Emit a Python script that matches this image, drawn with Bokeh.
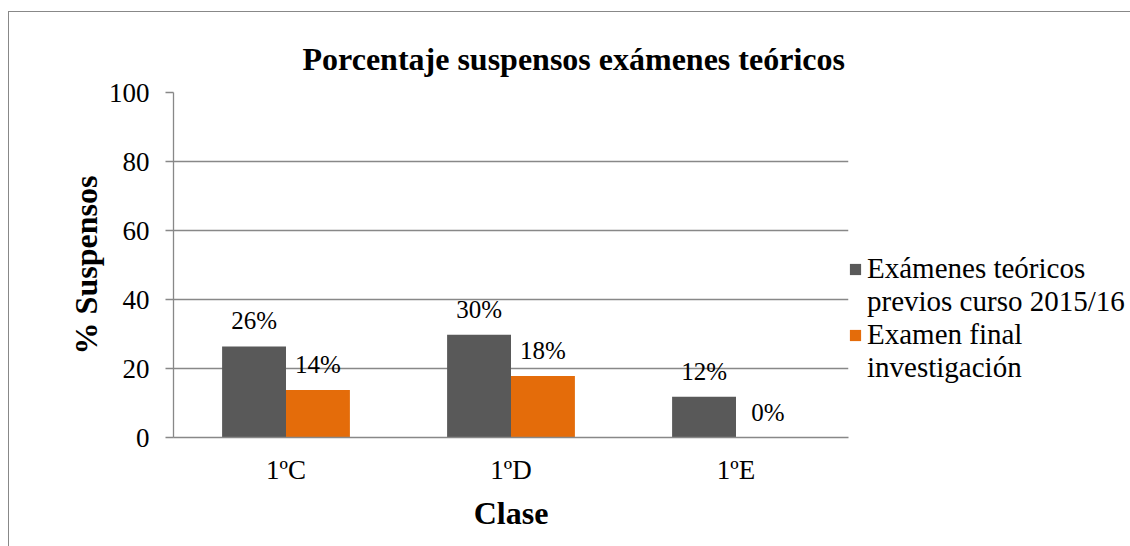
from bokeh.plotting import figure
from bokeh.models import ColumnDataSource, FactorRange, LabelSet, Legend, LegendItem, Title
from bokeh.transform import dodge
from bokeh.embed import file_html
from bokeh.resources import INLINE

categories = ["1ºC", "1ºD", "1ºE"]
previos = [26.4, 29.8, 11.8]
final = [13.8, 17.8, 0.0]
previos_labels = ["26%", "30%", "12%"]
final_labels = ["14%", "18%", "0%"]
series_lines = [["Exámenes teóricos", "previos curso 2015/16"], ["Examen final", "investigación"]]
y_ticks = [0, 20, 40, 60, 80, 100]

FONT = "Liberation Serif"
GRAY = "#595959"
ORANGE = "#E46C0A"
LINE = "#888888"

src = ColumnDataSource(dict(cat=categories, previos=previos, final=final,
                            pl=previos_labels, fl=final_labels))

p = figure(x_range=FactorRange(*categories, range_padding=0), y_range=(0, 100),
           frame_width=675, frame_height=345, output_backend="svg", toolbar_location=None,
           min_border_left=164, min_border_right=0, min_border_top=80, min_border_bottom=109)
t = Title(text="Porcentaje suspensos exámenes teóricos", align="left", offset=129,
          text_font=FONT, text_font_size="32px", text_font_style="bold", text_color="black",
          standoff=31)
p.add_layout(t, "above")

w = 0.284
r1 = p.vbar(x=dodge("cat", -w / 2, range=p.x_range), top="previos", width=w, source=src,
            fill_color=GRAY, line_color=None)
r2 = p.vbar(x=dodge("cat", w / 2, range=p.x_range), top="final", width=w, source=src,
            fill_color=ORANGE, line_color=None)

for col, lab, off in (("previos", "pl", -w / 2), ("final", "fl", w / 2)):
    ls = LabelSet(x=dodge("cat", off, range=p.x_range), y=col, text=lab, source=src,
                  text_align="center", text_baseline="bottom", y_offset=12,
                  text_font=FONT, text_font_size="25px", text_color="black")
    p.add_layout(ls)

p.outline_line_color = None
p.xgrid.grid_line_color = None
p.ygrid.grid_line_color = LINE
p.ygrid.grid_line_width = 1.3
p.yaxis.ticker = y_ticks

for ax in (p.xaxis, p.yaxis):
    ax.axis_line_color = LINE
    ax.axis_line_width = 1.3
    ax.major_label_text_font = FONT
    ax.major_label_text_font_size = "27px"
    ax.major_label_text_color = "black"
    ax.axis_label_text_font = FONT
    ax.axis_label_text_font_size = "32px"
    ax.axis_label_text_font_style = "bold"
    ax.axis_label_text_color = "black"
    ax.minor_tick_line_color = None

p.yaxis.axis_label = "% Suspensos"
p.yaxis.major_tick_line_color = LINE
p.yaxis.major_tick_line_width = 1.3
p.yaxis.major_tick_out = 8
p.yaxis.major_tick_in = 0
p.yaxis.major_label_standoff = 16
p.yaxis.axis_label_standoff = 2

p.xaxis.axis_label = "Clase"
p.xaxis.major_tick_line_color = None
p.xaxis.major_label_standoff = 11
p.xaxis.axis_label_standoff = 7

items = []
for lines, rend in zip(series_lines, (r1, r2)):
    items.append(LegendItem(label=lines[0], renderers=[rend]))
    items.append(LegendItem(label=lines[1], renderers=[]))

legend = Legend(items=items, location=(0, 53), orientation="vertical",
                label_text_font=FONT, label_text_font_size="29px", label_text_color="black",
                glyph_width=14, glyph_height=14, label_standoff=5, spacing=0, padding=0,
                margin=0, border_line_color=None, background_fill_alpha=0)
p.add_layout(legend, "right")

p.styles = {"border-left": "1px solid #888888", "border-top": "1px solid #888888",
            "margin-left": "8px", "margin-top": "11px"}

open("out.html", "w").write(file_html(p, INLINE))
